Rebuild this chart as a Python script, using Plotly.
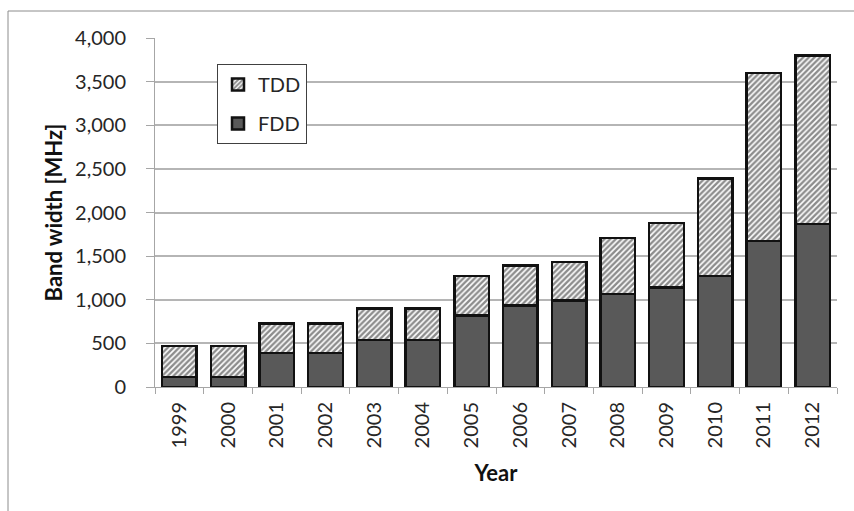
import plotly.graph_objects as go

# Spectrum allocated per year, MHz
years = ["1999", "2000", "2001", "2002", "2003", "2004", "2005",
         "2006", "2007", "2008", "2009", "2010", "2011", "2012"]
fdd = [115, 115, 390, 390, 540, 540, 820, 935, 990, 1065, 1140, 1270, 1675, 1870]
total = [470, 470, 730, 730, 900, 900, 1270, 1390, 1430, 1710, 1880, 2390, 3600, 3800]
tdd = [t - f for t, f in zip(total, fdd)]

y_ticks = [0, 500, 1000, 1500, 2000, 2500, 3000, 3500, 4000]

FONT = "Lato"
TEXT = "#262626"
AXIS = "#a6a6a6"

fig = go.Figure()
fig.add_trace(go.Bar(
    x=years, y=fdd, name="FDD", legendgroup="fdd", legendrank=2,
    marker=dict(color="#595959", line=dict(color="#111111", width=2.5)),
))
fig.add_trace(go.Bar(
    x=years, y=tdd, name="TDD", legendgroup="tdd", legendrank=1,
    marker=dict(
        color="white",
        line=dict(color="#111111", width=2.5),
        pattern=dict(shape="/", fgcolor="#1a1a1a", bgcolor="white",
                     size=4, solidity=0.6),
    ),
))

# plot-area margins in pixels
L, R, T, B = 155, 17, 38, 124
W, H = 854, 511
pw, ph = W - L - R, H - T - B

fig.update_layout(
    width=W, height=H,
    margin=dict(l=L, r=R, t=T, b=B),
    barmode="stack",
    bargap=0.29,
    plot_bgcolor="white",
    paper_bgcolor="white",
    font=dict(family=FONT, size=20, color=TEXT),
    showlegend=True,
    legend=dict(
        x=(217 - L) / pw, y=(H - B - 64) / ph,
        xanchor="left", yanchor="top",
        traceorder="grouped",
        tracegroupgap=10,
        bgcolor="white",
        bordercolor="#404040", borderwidth=1,
        font=dict(family=FONT, size=20, color=TEXT),
    ),
    xaxis=dict(
        type="category",
        showline=True, linecolor=AXIS, linewidth=1,
        ticks="outside", ticklen=6, tickcolor=AXIS,
        tickson="boundaries",
        tickangle=-90,
        ticklabelstandoff=6,
        tickfont=dict(family=FONT, size=20, color=TEXT),
        title=dict(text="<b>Year</b>", standoff=18,
                   font=dict(family=FONT, size=22, color="#111111")),
        showgrid=False,
    ),
    yaxis=dict(
        range=[0, 4000],
        tickvals=y_ticks,
        tickformat=",d",
        showline=True, linecolor=AXIS, linewidth=1,
        ticks="outside", ticklen=8, tickcolor=AXIS,
        ticklabelstandoff=16,
        tickfont=dict(family=FONT, size=20, color=TEXT),
        showgrid=True, gridcolor="#b5b5b5", gridwidth=1.5,
        zeroline=False,
        title=dict(text="<b>Band width [MHz]</b>", standoff=6,
                   font=dict(family=FONT, size=22, color="#111111")),
    ),
    shapes=[dict(
        type="rect", xref="paper", yref="paper",
        x0=(8 - L) / pw, x1=(W + 10 - L) / pw,
        y0=(H - B - (H + 10)) / ph, y1=(H - B - 11) / ph,
        line=dict(color="#8c8c8c", width=1),
        fillcolor="rgba(0,0,0,0)", layer="below",
    )],
)

fig.write_html("out.html")
